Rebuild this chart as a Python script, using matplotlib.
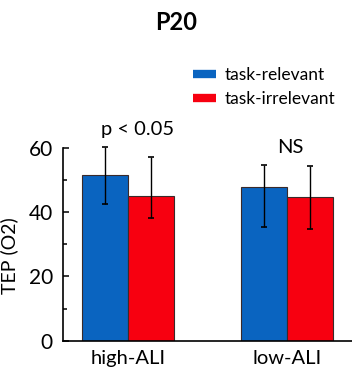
import numpy as np
import matplotlib
matplotlib.use('Agg')
import matplotlib.pyplot as plt
from matplotlib.lines import Line2D

plt.rcParams['font.family'] = ['Lato', 'DejaVu Sans']

groups = ['high-ALI', 'low-ALI']
series = ['task-relevant', 'task-irrelevant']
relevant = [51.5, 47.9]
irrelevant = [45.0, 44.8]
# error bar ends (lower, upper)
relevant_lo = [42.4, 35.3]
relevant_hi = [60.3, 54.6]
irrelevant_lo = [38.2, 34.8]
irrelevant_hi = [57.2, 54.4]
notes = ['p < 0.05', 'NS']
yticks = [0, 20, 40, 60]

blue = '#0a64c0'
red = '#f70010'

fig = plt.figure(figsize=(3.52, 3.67), dpi=100)
ax = fig.add_axes([0.178, 0.0717, 0.822, 0.5258])

x = np.arange(len(groups))
w = 0.29

def draw(xpos, vals, lo, hi, color):
	vals = np.array(vals)
	err = [vals - np.array(lo), np.array(hi) - vals]
	ax.bar(xpos, vals, w, color=color, edgecolor='#3a2a2a', linewidth=0.8, zorder=2)
	ax.errorbar(xpos, vals, yerr=err, fmt='none', ecolor='black', elinewidth=1.0,
		capsize=2, capthick=1.2, clip_on=False, zorder=3)

draw(x - w/2, relevant, relevant_lo, relevant_hi, blue)
draw(x + w/2, irrelevant, irrelevant_lo, irrelevant_hi, red)

ax.set_xlim(-0.409, 1.41)
ax.set_ylim(0, 60)
ax.set_yticks(yticks)
ax.set_yticks([10, 30, 50], minor=True)
ax.tick_params(axis='y', which='both', direction='in', labelsize=15, pad=7, width=1.1)
ax.tick_params(axis='y', which='major', length=4)
ax.tick_params(axis='y', which='minor', length=3)
ax.set_xticks(x)
ax.set_xticklabels(groups)
ax.tick_params(axis='x', length=0, labelsize=14.5, pad=7)
ax.spines['top'].set_visible(False)
ax.spines['right'].set_visible(False)
for s in ['left', 'bottom']:
	ax.spines[s].set_linewidth(1.2)
ax.set_ylabel('TEP (O2)', fontsize=14)
ax.yaxis.set_label_coords(-0.155, 0.44)

ax.text(x[0] + 0.06, 63.9, notes[0], ha='center', va='baseline', fontsize=14.5)
ax.text(x[1] + 0.02, 58.3, notes[1], ha='center', va='baseline', fontsize=14.5)

fig.text(0.5, 0.94, 'P20', ha='center', va='center', fontsize=17, fontweight='bold')

handles = [Line2D([0], [0], color=blue, lw=6, solid_capstyle='butt'),
	Line2D([0], [0], color=red, lw=6, solid_capstyle='butt')]
fig.legend(handles, series, loc='upper left', bbox_to_anchor=(0.525, 0.84),
	frameon=False, fontsize=12.5, handlelength=1.3, handletextpad=0.5,
	labelspacing=0.45, borderpad=0)

fig.savefig('out.png', dpi=100)
